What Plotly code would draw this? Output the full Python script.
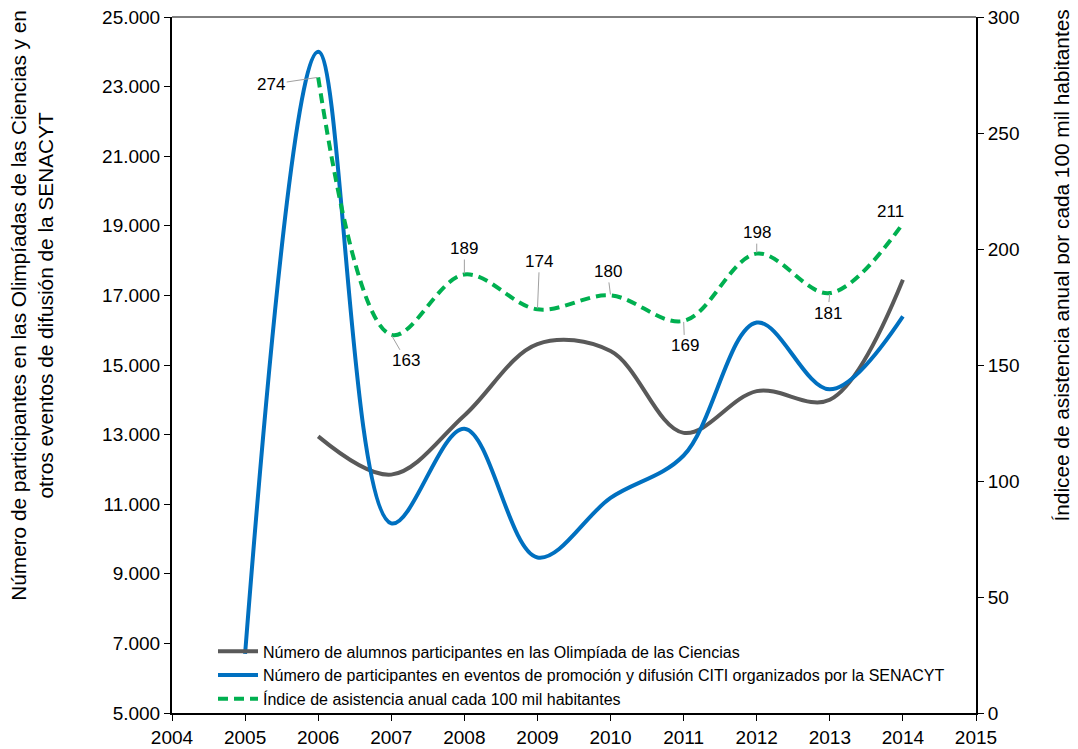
#!/usr/bin/env python3
"""Participantes SENACYT y olimpiadas de ciencias, 2005-2014."""

import plotly.graph_objects as go

YEARS_OLIMP = [2006, 2007, 2008, 2009, 2010, 2011, 2012, 2013, 2014]
OLIMPIADAS = [12950, 11850, 13550, 15600, 15400, 13050, 14250, 14000, 17450]

YEARS_EVENTOS = [2005, 2006, 2007, 2008, 2009, 2010, 2011, 2012, 2013, 2014]
EVENTOS = [6700, 24000, 10450, 13170, 9470, 11180, 12400, 16220, 14300, 16400]

YEARS_INDICE = [2006, 2007, 2008, 2009, 2010, 2011, 2012, 2013, 2014]
INDICE = [274, 163, 189, 174, 180, 169, 198, 181, 211]
# data label offsets in pixels (text centre relative to the point)
LABEL_AX = [-47, 15, 0, 2, -3, 1, 0, -2, -12]
LABEL_AY = [7, 26, -26, -48, -24, 25, -21, 20, -12]

LEFT_TICKS = [5000, 7000, 9000, 11000, 13000, 15000, 17000, 19000, 21000, 23000, 25000]
LEFT_LABELS = ["5.000", "7.000", "9.000", "11.000", "13.000", "15.000",
               "17.000", "19.000", "21.000", "23.000", "25.000"]
RIGHT_TICKS = [0, 50, 100, 150, 200, 250, 300]
X_TICKS = list(range(2004, 2016))

FONT = "Liberation Sans, Arial, sans-serif"

fig = go.Figure()
fig.add_trace(go.Scatter(
    x=YEARS_OLIMP, y=OLIMPIADAS, mode="lines",
    line=dict(color="#595959", width=4, shape="spline", smoothing=1),
    name="Número de alumnos participantes en las Olimpíada de las Ciencias",
))
fig.add_trace(go.Scatter(
    x=YEARS_EVENTOS, y=EVENTOS, mode="lines",
    line=dict(color="#0070C0", width=4, shape="spline", smoothing=1),
    name="Número de participantes en eventos de promoción y difusión CITI organizados por la SENACYT",
))
fig.add_trace(go.Scatter(
    x=YEARS_INDICE, y=INDICE, mode="lines", yaxis="y2",
    line=dict(color="#00B050", width=4, shape="spline", smoothing=1, dash="10px,6px"),
    name="Índice de asistencia anual cada 100 mil habitantes",
))

for i, (x, y, ax, ay) in enumerate(zip(YEARS_INDICE, INDICE, LABEL_AX, LABEL_AY)):
    last = i == len(INDICE) - 1
    fig.add_annotation(
        x=x, y=y, xref="x", yref="y2", text=str(y),
        showarrow=True, arrowhead=0, arrowwidth=1,
        arrowcolor="rgba(0,0,0,0)" if last else "#a0a0a0",
        ax=ax, ay=ay, standoff=1,
        font=dict(size=17, color="black", family=FONT),
    )

# axis titles placed as annotations (they sit above the plot centre)
fig.add_annotation(
    x=-0.2079, y=0.5863, xref="paper", yref="paper", showarrow=False, textangle=-90,
    text="Número de participantes en las Olimpíadas de las Ciencias y en<br>"
         "otros eventos de difusión de la SENACYT",
    font=dict(size=20.8, family=FONT, color="black"),
)
fig.add_annotation(
    x=1.1233, y=0.6424, xref="paper", yref="paper", showarrow=False, textangle=-90,
    text="Índicee de asistencia anual por cada 100 mil habitantes",
    font=dict(size=20.8, family=FONT, color="black"),
)

# thin top border
fig.add_shape(type="line", xref="paper", yref="paper", x0=0, x1=1, y0=1, y1=1,
              line=dict(color="black", width=1))

axis_common = dict(
    ticks="outside", ticklen=6, tickcolor="black", showline=True,
    linecolor="black", linewidth=2, showgrid=False, zeroline=False,
    tickfont=dict(size=19), automargin=False, ticklabeloverflow="allow",
)

# the page body adds an 8px offset, so the figure is a little smaller
fig.update_layout(
    width=1070, height=741,
    margin=dict(l=164, r=102, t=9, b=36),
    paper_bgcolor="white", plot_bgcolor="white",
    font=dict(family=FONT, color="black", size=19),
    showlegend=True,
    legend=dict(
        x=0.051, y=0.113, xanchor="left", yanchor="top",
        bgcolor="rgba(0,0,0,0)", borderwidth=0,
        font=dict(size=16, family=FONT), tracegroupgap=0, itemwidth=40,
    ),
    xaxis=dict(range=[2004, 2015], tickvals=X_TICKS, **axis_common),
    yaxis=dict(range=[5000, 25000], tickvals=LEFT_TICKS, ticktext=LEFT_LABELS,
               **axis_common),
    yaxis2=dict(range=[0, 300], tickvals=RIGHT_TICKS, overlaying="y", side="right",
                **axis_common),
)

fig.write_html("out.html")
